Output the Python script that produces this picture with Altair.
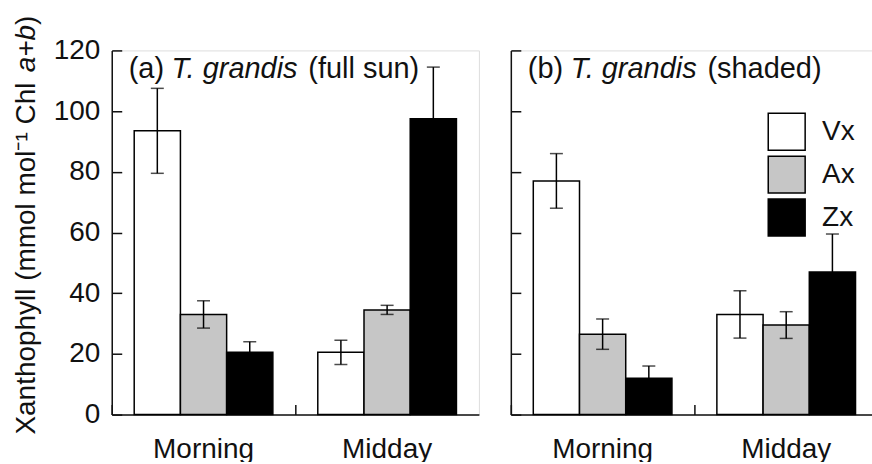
import altair as alt
import pandas as pd

# ---------------- data ----------------
times = ["Morning", "Midday"]
pigments = ["Vx", "Ax", "Zx"]
fills = ["#ffffff", "#c6c6c6", "#000000"]

# order: Morning Vx, Ax, Zx, Midday Vx, Ax, Zx
sun_mean = [93.5, 33.0, 20.5, 20.5, 34.5, 97.5]
sun_err = [14.0, 4.5, 3.5, 4.0, 1.5, 17.0]
shade_mean = [77.0, 26.5, 12.0, 33.0, 29.5, 47.0]
shade_err = [9.0, 5.0, 4.0, 7.8, 4.4, 12.5]

y_ticks = [0, 20, 40, 60, 80, 100, 120]
panel_tags = ["(a)", "(b)"]
species = "T. grandis"
conditions = ["(full sun)", "(shaded)"]
ytitle_parts = ["Xanthophyll (mmol mol\u207b\u00b9 Chl ", "a+b", ")"]

FONT = "Liberation Sans"
INK = "#111111"
FS = 28


def make_df(means, errs):
    rows = []
    i = 0
    for t in times:
        for p in pigments:
            m, e = means[i], errs[i]
            rows.append({"time": t, "pigment": p, "mean": m, "lo": m - e, "hi": m + e})
            i += 1
    return pd.DataFrame(rows)


def panel(means, errs, idx):
    df = make_df(means, errs)
    xax = alt.Axis(title=None, labelAngle=0, labelFontSize=FS, labelFont=FONT,
                   labelColor=INK, labelPadding=31, tickSize=alt.ExprRef("-10"),
                   bandPosition=0, domainColor=INK, tickColor=INK,
                   domainWidth=1.5, tickWidth=1.5, grid=False)
    yax = alt.Axis(title=None, values=y_ticks, labels=(idx == 0), labelFontSize=FS,
                   labelFont=FONT, labelColor=INK, labelPadding=22,
                   tickSize=alt.ExprRef("-10"), domainColor=INK, tickColor=INK,
                   domainWidth=1.5, tickWidth=1.5, grid=False)
    xs = alt.Scale(domain=times, paddingInner=0, paddingOuter=0)
    xos = alt.Scale(domain=pigments, paddingInner=0, paddingOuter=0.486)
    ys = alt.Scale(domain=[0, 120], nice=False, zero=True)
    x = alt.X("time:N", sort=times, scale=xs, axis=xax)
    xo = alt.XOffset("pigment:N", sort=pigments, scale=xos)

    if idx == 1:
        legend = alt.Legend(orient="none", legendX=257, legendY=62, title=None,
                            symbolType="square", symbolSize=1369,
                            symbolStrokeColor="black", symbolStrokeWidth=1.5,
                            labelFontSize=FS, labelFont=FONT, labelColor=INK,
                            labelOffset=16, rowPadding=0, padding=0)
    else:
        legend = None

    bars = alt.Chart(df).mark_bar(stroke="black", strokeWidth=1.5).encode(
        x=x, xOffset=xo,
        y=alt.Y("mean:Q", scale=ys, axis=yax),
        fill=alt.Fill("pigment:N", sort=pigments,
                      scale=alt.Scale(domain=pigments, range=fills), legend=legend),
    )
    rules = alt.Chart(df).mark_rule(color="black", strokeWidth=1.5).encode(
        x=x, xOffset=xo,
        y=alt.Y("lo:Q", scale=ys, axis=yax), y2="hi:Q",
    )
    cap_hi = alt.Chart(df).mark_tick(color="black", size=13, thickness=1.5,
                                     orient="horizontal").encode(
        x=x, xOffset=xo, y=alt.Y("hi:Q", scale=ys, axis=yax))
    cap_lo = alt.Chart(df).mark_tick(color="black", size=13, thickness=1.5,
                                     orient="horizontal").encode(
        x=x, xOffset=xo, y=alt.Y("lo:Q", scale=ys, axis=yax))

    def label(txt, px, italic=False):
        return alt.Chart(pd.DataFrame({"s": [txt]})).mark_text(
            font=FONT, fontSize=29, align="left", baseline="alphabetic",
            color=INK, fontStyle="italic" if italic else "normal").encode(
            text="s:N", x=alt.value(px), y=alt.value(28))

    layers = [bars, rules, cap_hi, cap_lo,
              label(panel_tags[idx], 17), label(species, 60, True),
              label(conditions[idx], 197)]

    if idx == 0:
        def ylab(txt, py, italic=False):
            return alt.Chart(pd.DataFrame({"s": [txt]})).mark_text(
                font=FONT, fontSize=FS, align="left", baseline="alphabetic",
                angle=270, color=INK,
                fontStyle="italic" if italic else "normal").encode(
                text="s:N", x=alt.value(-77), y=alt.value(py))
        layers += [ylab(ytitle_parts[0], 385), ylab(ytitle_parts[1], 22, True),
                   ylab(ytitle_parts[2], -25.5)]

    return alt.layer(*layers).properties(width=368, height=365)


pa = panel(sun_mean, sun_err, 0)
pb = panel(shade_mean, shade_err, 1)

chart = alt.hconcat(pa, pb, spacing=29).resolve_scale(fill="independent").properties(
    padding={"left": 12, "top": 14, "right": -7, "bottom": -3}
).configure_view(stroke=INK, strokeWidth=1.5).configure(background="white")

chart.save("out.html", embed_options={"renderer": "svg", "actions": False})
